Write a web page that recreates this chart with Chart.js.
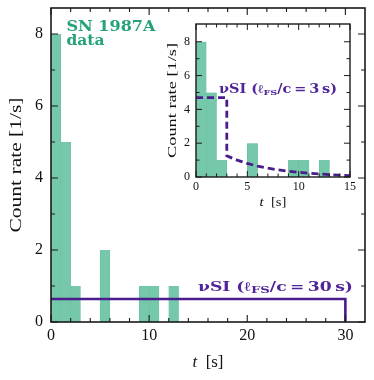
<!DOCTYPE html>
<html><head><meta charset="utf-8">
<script src="https://cdn.jsdelivr.net/npm/chart.js@4/dist/chart.umd.min.js"></script>
<style>
html,body{margin:0;padding:0;background:#fff}
body{width:374px;height:380px;position:relative;overflow:hidden}
canvas{position:absolute;left:0;top:0}
#inset{pointer-events:none}
</style></head><body>
<canvas id="main" width="374" height="380"></canvas>
<canvas id="inset" width="374" height="380"></canvas>
<script>
// ---- data ----
const binLeft   = [0, 1, 2, 3, 4, 5, 6, 7, 8, 9, 10, 11, 12];
const countRate = [8, 5, 1, 0, 0, 2, 0, 0, 0, 1, 1, 0, 1];
const modelLongT    = [0, 30, 30];
const modelLongRate = [0.64, 0.64, 0];
const modelShortT    = [0, 3, 3, 4, 5, 6, 7, 8, 9, 10, 11, 12, 13, 14, 15];
const modelShortRate = [4.7, 4.7, 1.25, 1.0, 0.8, 0.64, 0.52, 0.42, 0.34, 0.28, 0.22, 0.18, 0.14, 0.11, 0.08];
const mainXTicks  = [0, 10, 20, 30];
const mainXMinor  = [2, 4, 6, 8, 12, 14, 16, 18, 22, 24, 26, 28];
const mainYTicks  = [0, 2, 4, 6, 8];
const mainYMinor  = [1, 3, 5, 7];
const insetXTicks = [0, 5, 10, 15];
const insetXMinor = [1, 2, 3, 4, 6, 7, 8, 9, 11, 12, 13, 14];
const insetYTicks = [0, 2, 4, 6, 8];
const insetYMinor = [1, 3, 5, 7];

const SERIF = '"Liberation Serif", "DejaVu Serif", serif';
const BSERIF = '"DejaVu Serif", "Liberation Serif", serif';
const BAR = '#76c8aa';
const BAR_EDGE = '#6cc0a1';
const GREEN = '#24a279';
const PURPLE = '#4a1c8c';
const PURPLE_T = '#50259a';

const barData = binLeft.map((b, i) => ({x: b + 0.5, y: countRate[i]}));
const longData = modelLongT.map((t, i) => ({x: t, y: modelLongRate[i]}));
const shortData = modelShortT.map((t, i) => ({x: t, y: modelShortRate[i]}));

// draws mixed-style text; optional target width stretches it horizontally
function richText(ctx, segs, x, y, align, target) {
  let w = 0;
  segs.forEach(s => { ctx.font = s.font; s.w = ctx.measureText(s.t).width; w += s.w; });
  const k = target ? target / w : 1;
  const W = w * k;
  const x0 = align === 'right' ? x - W : (align === 'center' ? x - W / 2 : x);
  ctx.save();
  ctx.translate(x0, y);
  ctx.scale(k, 1);
  let cx = 0;
  segs.forEach(s => { ctx.font = s.font; ctx.fillText(s.t, cx, s.dy || 0); cx += s.w; });
  ctx.restore();
}

const framePlugin = {
  id: 'frameTicks',
  beforeDatasetsDraw(chart, args, o) {
    if (o.whiteBg) {
      const a = chart.chartArea, c = chart.ctx;
      c.save(); c.fillStyle = '#fff'; c.fillRect(a.left, a.top, a.right - a.left, a.bottom - a.top); c.restore();
    }
  },
  afterDatasetsDraw(chart, args, o) {
    const c = chart.ctx, a = chart.chartArea, x = chart.scales.x, y = chart.scales.y;
    c.save();
    c.strokeStyle = '#1a1a1a';
    c.lineWidth = o.lw;
    c.beginPath();
    const seg = (x1, y1, x2, y2) => { c.moveTo(x1, y1); c.lineTo(x2, y2); };
    o.xMajor.forEach(v => { const p = x.getPixelForValue(v); seg(p, a.bottom, p, a.bottom - o.maj); seg(p, a.top, p, a.top + o.maj); });
    o.xMinor.forEach(v => { const p = x.getPixelForValue(v); seg(p, a.bottom, p, a.bottom - o.min); seg(p, a.top, p, a.top + o.min); });
    o.yMajor.forEach(v => { const p = y.getPixelForValue(v); seg(a.left, p, a.left + o.maj, p); seg(a.right, p, a.right - o.maj, p); });
    o.yMinor.forEach(v => { const p = y.getPixelForValue(v); seg(a.left, p, a.left + o.min, p); seg(a.right, p, a.right - o.min, p); });
    c.stroke();
    c.lineWidth = o.fw;
    c.strokeRect(a.left, a.top, a.right - a.left, a.bottom - a.top);
    c.restore();
  },
  afterDraw(chart, args, o) {
    const c = chart.ctx, a = chart.chartArea;
    c.save();
    c.fillStyle = '#111';
    c.textBaseline = 'alphabetic';
    c.textAlign = 'left';
    // x title
    richText(c, [
      {t: 't', font: 'italic ' + o.tf + 'px ' + SERIF},
      {t: '  [s]', font: o.tf + 'px ' + SERIF}
    ], (a.left + a.right) / 2, o.xtY, 'center', o.xtW);
    // y title
    c.save();
    c.translate(o.ytX, (a.top + a.bottom) / 2);
    c.rotate(-Math.PI / 2);
    c.textBaseline = 'middle';
    richText(c, [{t: 'Count rate [1/s]', font: o.tf + 'px ' + SERIF}], 0, 0, 'center', o.ytW);
    c.restore();
    // annotations
    c.textBaseline = 'alphabetic';
    (o.notes || []).forEach(n => {
      c.fillStyle = n.color;
      richText(c, n.segs, n.x, n.y, n.align, n.w);
    });
    c.restore();
  }
};

function scalesFor(xMax, yMax, xTicks, yTicks, tickFont, xPad, yPad, yW, xH) {
  return {
    x: {
      type: 'linear', min: 0, max: xMax, offset: false,
      grid: {display: false, drawTicks: false, offset: false}, border: {display: false},
      afterBuildTicks: s => { s.ticks = xTicks.map(v => ({value: v})); },
      afterFit: s => { s.height = xH; s.paddingLeft = 0; s.paddingRight = 0; },
      ticks: {font: {family: SERIF, size: tickFont}, color: '#111', padding: xPad, maxRotation: 0, autoSkip: false,
              callback: v => String(v)}
    },
    y: {
      type: 'linear', min: 0, max: yMax,
      grid: {display: false, drawTicks: false}, border: {display: false},
      afterBuildTicks: s => { s.ticks = yTicks.map(v => ({value: v})); },
      afterFit: s => { s.width = yW; s.paddingTop = 0; s.paddingBottom = 0; },
      ticks: {font: {family: SERIF, size: tickFont}, color: '#111', padding: yPad, autoSkip: false,
              callback: v => String(v)}
    }
  };
}

function datasets(model, dash, lw) {
  return [
    {type: 'bar', data: barData, backgroundColor: BAR, borderColor: BAR_EDGE,
     borderWidth: {left: 0.7, right: 0.7, top: 0, bottom: 0},
     barPercentage: 1, categoryPercentage: 1, order: 2},
    {type: 'line', data: model, borderColor: PURPLE, borderWidth: lw, borderDash: dash,
     pointRadius: 0, fill: false, tension: 0, order: 1}
  ];
}

const common = {
  responsive: false, animation: false, devicePixelRatio: 1,
  plugins: {legend: {display: false}, tooltip: {enabled: false}}
};

new Chart(document.getElementById('main'), {
  data: {datasets: datasets(longData, [], 2.6)},
  options: Object.assign({}, common, {
    layout: {padding: {left: 0, right: 9, top: 8, bottom: 0}},
    scales: scalesFor(32, 8.72, mainXTicks, mainYTicks, 16, 4, 8, 51, 58),
    plugins: Object.assign({}, common.plugins, {
      frameTicks: {
        lw: 1.1, fw: 1.6, maj: 7, min: 4,
        xMajor: mainXTicks, xMinor: mainXMinor, yMajor: mainYTicks, yMinor: mainYMinor,
        tf: 17, xtY: 367, xtW: 31, ytX: 16.5, ytW: 135,
        notes: [
          {color: GREEN, x: 66.5, y: 31, align: 'left', w: 89, segs: [{t: 'SN 1987A', font: 'bold 14px ' + BSERIF}]},
          {color: GREEN, x: 66.5, y: 45, align: 'left', w: 38, segs: [{t: 'data', font: 'bold 14px ' + BSERIF}]},
          {color: PURPLE_T, x: 353, y: 291, align: 'right', w: 155, segs: [
            {t: '\u03BDSI (\u2113', font: 'bold 13px ' + BSERIF},
            {t: 'FS', font: 'bold 10px ' + BSERIF, dy: 2},
            {t: '/c\u2009=\u200930\u2009s)', font: 'bold 13px ' + BSERIF}
          ]}
        ]
      }
    })
  }),
  plugins: [framePlugin]
});

new Chart(document.getElementById('inset'), {
  data: {datasets: datasets(shortData, [7, 4], 2.8)},
  options: Object.assign({}, common, {
    layout: {padding: {left: 160, right: 24, top: 24, bottom: 163}},
    scales: scalesFor(15, 9.05, insetXTicks, insetYTicks, 12, 3, 6, 36, 40),
    plugins: Object.assign({}, common.plugins, {
      frameTicks: {
        whiteBg: true,
        lw: 1, fw: 1.4, maj: 6, min: 3.5,
        xMajor: insetXTicks, xMinor: insetXMinor, yMajor: insetYTicks, yMinor: insetYMinor,
        tf: 13, xtY: 206, xtW: 27, ytX: 172.5, ytW: 115,
        notes: [
          {color: PURPLE_T, x: 219, y: 93, align: 'left', w: 118, segs: [
            {t: '\u03BDSI (\u2113', font: 'bold 12px ' + BSERIF},
            {t: 'FS', font: 'bold 8px ' + BSERIF, dy: 2},
            {t: '/c\u2009=\u20093\u2009s)', font: 'bold 12px ' + BSERIF}
          ]}
        ]
      }
    })
  }),
  plugins: [framePlugin]
});
</script>
</body></html>
